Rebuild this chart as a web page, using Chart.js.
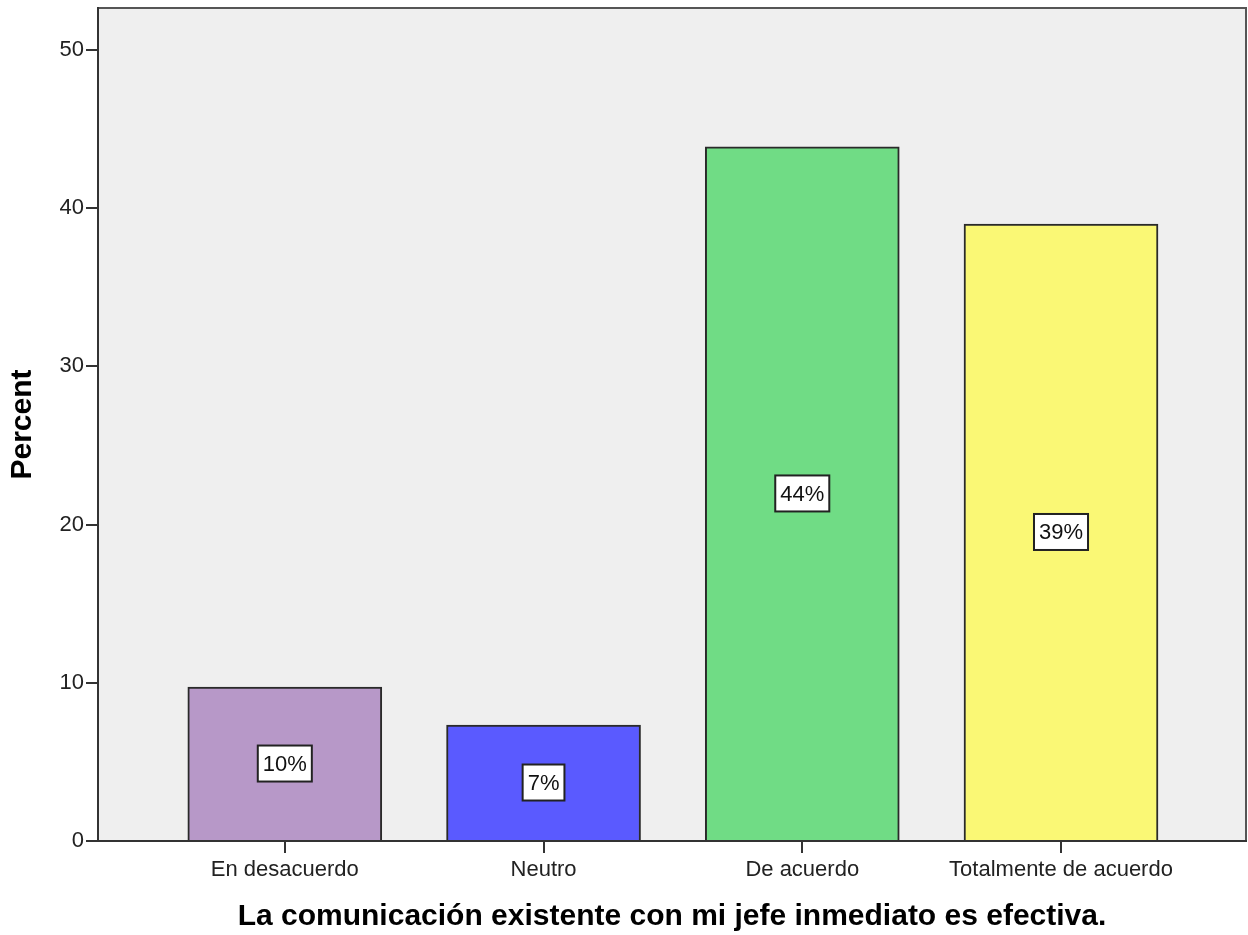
<html>
<head>
  <meta charset="utf-8">
  <title>La comunicación existente con mi jefe inmediato es efectiva.</title>
  <script src="https://cdn.jsdelivr.net/npm/chart.js"></script>
  <style>
    body { margin: 0; background: #fff; }
    #wrap { width: 1248px; height: 935px; }
  </style>
</head>
<body>
<div id="wrap"><canvas id="c" width="1248" height="935"></canvas></div>
<script>
const categories = ["En desacuerdo", "Neutro", "De acuerdo", "Totalmente de acuerdo"];
const percents = [9.73, 7.33, 43.87, 39.0];
const barColors = ["#b798c8", "#5a5aff", "#70dc85", "#faf875"];
const yTicks = [0, 10, 20, 30, 40, 50];

const FONT = "'Liberation Sans', Arial, sans-serif";

const plotFrame = {
  id: 'plotFrame',
  beforeDraw(chart) {
    const { ctx, chartArea: a } = chart;
    ctx.save();
    ctx.fillStyle = '#efefef';
    ctx.fillRect(a.left, a.top, a.right - a.left, a.bottom - a.top);
    ctx.strokeStyle = '#555';
    ctx.lineWidth = 2;
    ctx.beginPath();
    ctx.moveTo(a.left, a.top);
    ctx.lineTo(a.right, a.top);
    ctx.lineTo(a.right, a.bottom);
    ctx.stroke();
    ctx.restore();
  },
  afterDatasetsDraw(chart) {
    const { ctx } = chart;
    const meta = chart.getDatasetMeta(0);
    ctx.save();
    ctx.font = '22px ' + FONT;
    ctx.textAlign = 'center';
    ctx.textBaseline = 'middle';
    meta.data.forEach((bar, i) => {
      const txt = Math.round(percents[i]) + '%';
      const cy = (bar.y + bar.base) / 2;
      const w = ctx.measureText(txt).width + 10;
      const h = 36;
      ctx.fillStyle = '#fff';
      ctx.fillRect(bar.x - w / 2, cy - h / 2, w, h);
      ctx.strokeStyle = '#222';
      ctx.lineWidth = 2;
      ctx.strokeRect(bar.x - w / 2, cy - h / 2, w, h);
      ctx.fillStyle = '#111';
      ctx.fillText(txt, bar.x, cy + 1);
    });
    ctx.restore();
  }
};

new Chart(document.getElementById('c'), {
  type: 'bar',
  data: {
    datasets: [{
      data: percents.map((v, i) => ({ x: i, y: v })),
      backgroundColor: barColors,
      borderColor: '#2a2a2a',
      borderWidth: 2,
      barThickness: 194
    }]
  },
  options: {
    responsive: false,
    animation: false,
    layout: { padding: { left: 0, right: 2, top: 8, bottom: 0 } },
    plugins: { legend: { display: false }, tooltip: { enabled: false } },
    scales: {
      x: {
        type: 'linear',
        offset: false,
        min: -0.722,
        max: 3.715,
        afterBuildTicks(scale) {
          scale.ticks = categories.map((c, i) => ({ value: i }));
        },
        afterFit(scale) {
          scale.height = 94;
          scale.paddingLeft = 0;
          scale.paddingRight = 0;
        },
        ticks: {
          callback: (v) => categories[v] ?? '',
          color: '#222',
          font: { family: FONT, size: 22 },
          padding: 4,
          maxRotation: 0,
          autoSkip: false
        },
        grid: { drawOnChartArea: false, offset: false, tickLength: 12, color: '#333', lineWidth: 2 },
        border: { color: '#333', width: 2 },
        title: {
          display: true,
          text: 'La comunicación existente con mi jefe inmediato es efectiva.',
          color: '#000',
          font: { family: FONT, size: 30, weight: 'bold' },
          padding: { top: 0, bottom: 0 }
        }
      },
      y: {
        min: 0,
        max: 52.65,
        afterBuildTicks(scale) {
          scale.ticks = yTicks.map(v => ({ value: v }));
        },
        afterFit(scale) {
          scale.width = 98;
          scale.paddingTop = 0;
          scale.paddingBottom = 0;
        },
        ticks: {
          color: '#222',
          font: { family: FONT, size: 22 },
          padding: 2
        },
        grid: { drawOnChartArea: false, tickLength: 12, color: '#333', lineWidth: 2 },
        border: { color: '#333', width: 2 },
        title: {
          display: true,
          text: 'Percent',
          color: '#000',
          font: { family: FONT, size: 30, weight: 'bold' },
          padding: { top: 5, bottom: 0 }
        }
      }
    }
  },
  plugins: [plotFrame]
});
</script>
</body>
</html>
